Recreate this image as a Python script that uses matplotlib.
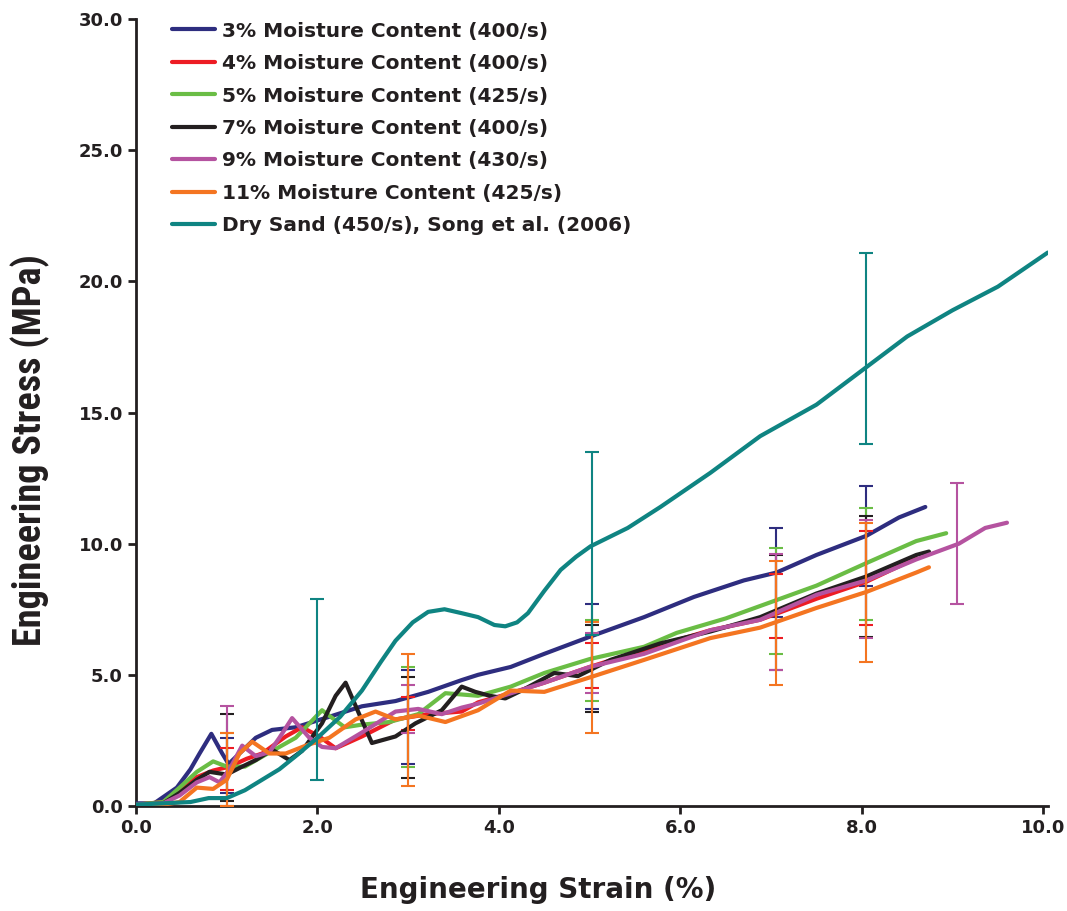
import matplotlib
matplotlib.use("Agg")
import matplotlib.pyplot as plt
from matplotlib import font_manager

# stress-strain curves (strain %, stress MPa)
labels = ["3% Moisture Content (400/s)", "4% Moisture Content (400/s)",
          "5% Moisture Content (425/s)", "7% Moisture Content (400/s)",
          "9% Moisture Content (430/s)", "11% Moisture Content (425/s)",
          "Dry Sand (450/s), Song et al. (2006)"]
colors = ["#2e2d7f", "#ed1c24", "#6abd45", "#231f20", "#b553a0", "#f47521", "#0f8482"]

x3 = [0, 0.2, 0.45, 0.6, 0.7, 0.83, 0.95, 1.02, 1.14, 1.32, 1.5, 1.76, 2.13, 2.49, 2.86,
      3.22, 3.59, 3.77, 4.13, 4.5, 5.0, 5.6, 6.15, 6.7, 7.06, 7.5, 8.05, 8.41, 8.7]
y3 = [0.1, 0.1, 0.7, 1.4, 2.0, 2.75, 2.0, 1.6, 2.0, 2.6, 2.9, 3.0, 3.4, 3.8, 4.0,
      4.35, 4.8, 5.0, 5.3, 5.8, 6.45, 7.2, 7.97, 8.6, 8.9, 9.57, 10.3, 11.0, 11.4]

x4 = [0, 0.3, 0.5, 0.67, 0.85, 1.03, 1.22, 1.39, 1.65, 1.83, 2.02, 2.2, 2.49, 2.86,
      3.22, 3.59, 3.77, 4.13, 4.5, 5.0, 5.6, 6.33, 6.88, 7.5, 8.05, 8.6]
y4 = [0.05, 0.15, 0.6, 1.1, 1.35, 1.5, 1.8, 2.0, 2.65, 3.0, 2.65, 2.2, 2.65, 3.3,
      3.5, 3.6, 3.95, 4.3, 4.7, 5.3, 5.95, 6.7, 7.1, 7.9, 8.55, 9.45]

x5 = [0, 0.3, 0.48, 0.67, 0.85, 1.0, 1.2, 1.4, 1.58, 1.76, 2.05, 2.3, 2.49, 2.79,
      3.11, 3.41, 3.77, 4.13, 4.5, 5.0, 5.6, 5.96, 6.5, 7.06, 7.5, 8.05, 8.6, 8.93]
y5 = [0.05, 0.15, 0.7, 1.3, 1.7, 1.5, 1.5, 1.9, 2.25, 2.6, 3.65, 3.0, 3.1, 3.2,
      3.5, 4.3, 4.2, 4.55, 5.07, 5.6, 6.07, 6.6, 7.15, 7.85, 8.4, 9.26, 10.1, 10.4]

x7 = [0, 0.3, 0.48, 0.67, 0.81, 1.0, 1.17, 1.32, 1.5, 1.69, 1.83, 2.05, 2.2, 2.31,
      2.46, 2.6, 2.86, 3.08, 3.37, 3.59, 3.74, 3.9, 4.07, 4.25, 4.61, 4.87, 5.23,
      5.78, 6.33, 6.88, 7.5, 8.05, 8.6, 8.74]
y7 = [0.05, 0.1, 0.5, 1.0, 1.3, 1.2, 1.5, 1.75, 2.15, 1.75, 2.1, 3.15, 4.2, 4.7,
      3.5, 2.4, 2.65, 3.15, 3.65, 4.55, 4.35, 4.2, 4.1, 4.4, 5.07, 4.95, 5.57,
      6.2, 6.65, 7.2, 8.1, 8.75, 9.57, 9.7]

x9 = [0, 0.3, 0.48, 0.67, 0.81, 0.92, 1.03, 1.17, 1.32, 1.47, 1.58, 1.72, 1.91, 2.05,
      2.2, 2.49, 2.86, 3.11, 3.37, 3.59, 3.77, 4.5, 5.0, 5.6, 6.33, 6.88, 7.5, 8.05,
      8.6, 9.07, 9.36, 9.6]
y9 = [0.05, 0.1, 0.4, 0.9, 1.1, 0.9, 1.4, 2.3, 1.9, 2.05, 2.6, 3.35, 2.6, 2.25,
      2.2, 2.8, 3.6, 3.7, 3.5, 3.75, 3.9, 4.7, 5.3, 5.8, 6.7, 7.1, 8.05, 8.6,
      9.4, 10.0, 10.6, 10.8]

x11 = [0, 0.3, 0.48, 0.67, 0.85, 1.0, 1.14, 1.28, 1.47, 1.65, 1.87, 2.13, 2.42, 2.64,
       2.86, 3.11, 3.41, 3.77, 4.13, 4.5, 5.0, 5.6, 6.33, 6.88, 7.5, 8.05, 8.6, 8.74]
y11 = [0.0, 0.05, 0.15, 0.7, 0.65, 1.0, 2.0, 2.45, 2.0, 2.0, 2.3, 2.6, 3.3, 3.6,
       3.3, 3.45, 3.2, 3.65, 4.4, 4.35, 4.9, 5.57, 6.4, 6.8, 7.55, 8.16, 8.9, 9.1]

xd = [0, 0.3, 0.6, 0.8, 1.0, 1.2, 1.39, 1.58, 1.76, 2.0, 2.25, 2.49, 2.7, 2.86, 3.05,
      3.22, 3.4, 3.59, 3.77, 3.95, 4.07, 4.2, 4.32, 4.5, 4.68, 4.85, 5.01, 5.42, 5.78,
      6.33, 6.88, 7.5, 8.0, 8.5, 9.0, 9.5, 10.05]
yd = [0.05, 0.1, 0.15, 0.3, 0.3, 0.6, 1.0, 1.4, 1.9, 2.6, 3.4, 4.4, 5.5, 6.3, 7.0,
      7.4, 7.5, 7.35, 7.2, 6.9, 6.85, 7.0, 7.35, 8.2, 9.0, 9.5, 9.9, 10.6, 11.4,
      12.7, 14.1, 15.3, 16.6, 17.9, 18.9, 19.8, 21.1]

# error bars: position, lower end, upper end
ex3 = [1.0, 3.0, 5.03, 7.05, 8.05]
lo3 = [0.5, 1.6, 3.7, 7.2, 8.4]
hi3 = [2.6, 5.2, 7.7, 10.6, 12.2]
ex4 = [1.0, 3.0, 5.03, 7.05, 8.05]
lo4 = [0.6, 2.9, 4.5, 6.4, 6.9]
hi4 = [2.2, 4.15, 6.2, 8.85, 10.5]
ex5 = [1.0, 3.0, 5.03, 7.05, 8.05]
lo5 = [0.0, 1.5, 4.0, 5.8, 7.1]
hi5 = [2.8, 5.3, 7.1, 9.85, 11.35]
ex7 = [1.0, 3.0, 5.03, 7.05, 8.05]
lo7 = [0.2, 1.07, 3.6, 5.2, 6.45]
hi7 = [3.5, 4.9, 6.9, 9.55, 11.05]
ex9 = [1.0, 3.0, 5.03, 7.05, 8.05, 9.05]
lo9 = [0.0, 2.8, 4.3, 5.2, 6.4, 7.7]
hi9 = [3.8, 4.6, 6.6, 9.6, 10.9, 12.3]
ex11 = [1.0, 3.0, 5.03, 7.05, 8.05]
lo11 = [0.0, 0.77, 2.8, 4.6, 5.5]
hi11 = [2.8, 5.8, 7.0, 9.35, 10.8]
exd = [2.0, 5.03, 8.05]
lod = [1.0, 6.5, 13.8]
hid = [7.9, 13.5, 21.1]

xs = [x3, x4, x5, x7, x9, x11, xd]
ys = [y3, y4, y5, y7, y9, y11, yd]
exs = [ex3, ex4, ex5, ex7, ex9, ex11, exd]
los = [lo3, lo4, lo5, lo7, lo9, lo11, lod]
his = [hi3, hi4, hi5, hi7, hi9, hi11, hid]

# condensed face for the y label if one is around
names = {f.name for f in font_manager.fontManager.ttflist}
ylab_font = "Liberation Sans"
for cand in ["Liberation Sans Narrow", "DejaVu Sans Condensed", "Roboto Condensed"]:
    if cand in names:
        ylab_font = cand
        break

fig = plt.figure(figsize=(10.67, 9.11), dpi=100)
ax = fig.add_axes([0.1275, 0.1153, 0.8545, 0.8637])

for i in range(len(xs)):
    ax.plot(xs[i], ys[i], color=colors[i], lw=3, label=labels[i], zorder=3 + i,
            solid_capstyle="round")
    mid = [(a + b) / 2 for a, b in zip(los[i], his[i])]
    half = [(b - a) / 2 for a, b in zip(los[i], his[i])]
    ax.errorbar(exs[i], mid, yerr=half, fmt="none", ecolor=colors[i], elinewidth=1.5,
                capsize=5, capthick=1.5, zorder=3 + i)

ax.set_xlim(0, 10.05)
ax.set_ylim(0, 30)
ax.set_xticks([0, 2, 4, 6, 8, 10])
ax.set_xticklabels(["0.0", "2.0", "4.0", "6.0", "8.0", "10.0"])
ax.set_yticks([0, 5, 10, 15, 20, 25, 30])
ax.set_yticklabels(["0.0", "5.0", "10.0", "15.0", "20.0", "25.0", "30.0"])
ax.spines["top"].set_visible(False)
ax.spines["right"].set_visible(False)
for s in ["left", "bottom"]:
    ax.spines[s].set_linewidth(2)
    ax.spines[s].set_color("#231f20")
ax.tick_params(width=2, length=6, color="#231f20", labelsize=13)
for t in ax.get_xticklabels() + ax.get_yticklabels():
    t.set_fontweight("bold")
    t.set_color("#231f20")

fig.text(538 / 1067, 1 - 890 / 911, "Engineering Strain (%)", fontsize=20,
         fontweight="bold", color="#231f20", ha="center", va="center")
fig.text(30 / 1067, 1 - 450 / 911, "Engineering Stress (MPa)", fontsize=27.5,
         fontweight="bold", color="#231f20", ha="center", va="center",
         rotation=90, family=ylab_font)

leg = ax.legend(loc="upper left", bbox_to_anchor=(0.02, 1.02), frameon=False,
                prop={"family": "DejaVu Sans", "weight": "bold", "size": 14.5},
                handlelength=2.1, handletextpad=0.35, labelspacing=0.67)
for t in leg.get_texts():
    t.set_color("#231f20")

fig.savefig("out.png", dpi=100)
